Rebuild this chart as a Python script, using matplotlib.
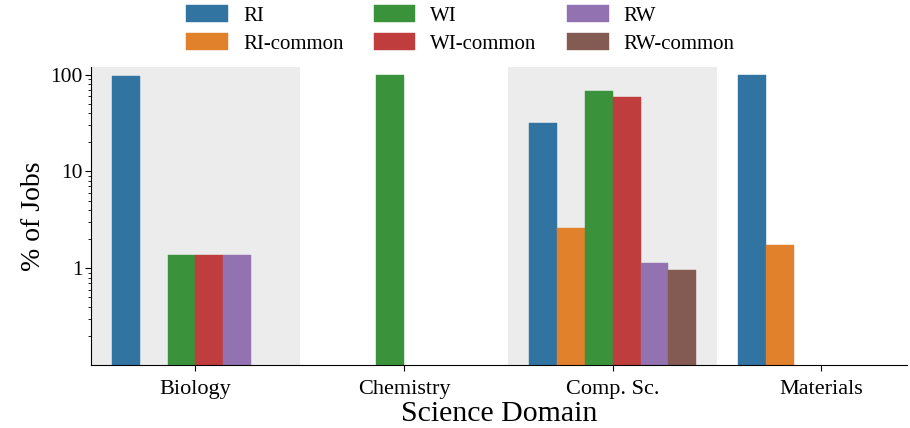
import numpy as np
import matplotlib
matplotlib.use("Agg")
import matplotlib.pyplot as plt
from matplotlib.ticker import LogLocator, FixedLocator, FixedFormatter, NullFormatter

plt.rcParams['font.family'] = ['Liberation Serif', 'DejaVu Serif']

categories = ["Biology", "Chemistry", "Comp. Sc.", "Materials"]
series = ["RI", "RI-common", "WI", "WI-common", "RW", "RW-common"]
values = {
    "RI":        [97.0, np.nan, 31.8, 100.0],
    "RI-common": [np.nan, np.nan, 2.6, 1.73],
    "WI":        [1.38, 100.0, 68.0, np.nan],
    "WI-common": [1.38, np.nan, 59.0, np.nan],
    "RW":        [1.38, np.nan, 1.13, np.nan],
    "RW-common": [np.nan, np.nan, 0.95, np.nan],
}
colors = ["#3274a1", "#e1812c", "#3a923a", "#c03d3e", "#9372b2", "#845b53"]
shaded = [0, 2]

fig = plt.figure(figsize=(9.1, 4.28), dpi=100)
ax = fig.add_axes([0.1, 0.147, 0.8967, 0.6965])

for i in shaded:
    ax.axvspan(i - 0.5, i + 0.5, color="#ececec", zorder=0, lw=0)

x = np.arange(len(categories))
n = len(series)
total = 0.8
w = total / n
for k, (s, c) in enumerate(zip(series, colors)):
    offs = -total / 2 + w * (k + 0.5)
    vals = np.array(values[s], dtype=float)
    ax.bar(x + offs, np.nan_to_num(vals, nan=0.0), width=w, color=c,
           label=s, zorder=2, edgecolor=c, linewidth=0.3)

ax.set_yscale("log")
ax.set_ylim(0.1, 120)
ax.set_xlim(-0.5, 3.41)
ax.yaxis.set_major_locator(FixedLocator([1, 10, 100]))
ax.yaxis.set_major_formatter(FixedFormatter(["1", "10", "100"]))
ax.yaxis.set_minor_locator(LogLocator(base=10, subs=np.arange(2, 10)))
ax.yaxis.set_minor_formatter(NullFormatter())
ax.set_xticks(x)
ax.set_xticklabels(categories)
ax.tick_params(axis="x", labelsize=16, length=4, pad=7)
ax.tick_params(axis="y", labelsize=15.5, length=4, pad=2)
ax.tick_params(axis="y", which="minor", length=2.5)
for sp in ["top", "right"]:
    ax.spines[sp].set_visible(False)
ax.set_ylabel("% of Jobs", fontsize=20, labelpad=3)
ax.set_xlabel("Science Domain", fontsize=21.5, labelpad=1)

ax.legend(loc="upper center", bbox_to_anchor=(0.4528, 1.221), ncol=3,
          frameon=False, fontsize=15, handlelength=2.0, handleheight=0.85,
          handletextpad=0.72, columnspacing=1.45, labelspacing=0.35,
          borderaxespad=0, borderpad=0.2)

fig.savefig("out.png", dpi=100)
